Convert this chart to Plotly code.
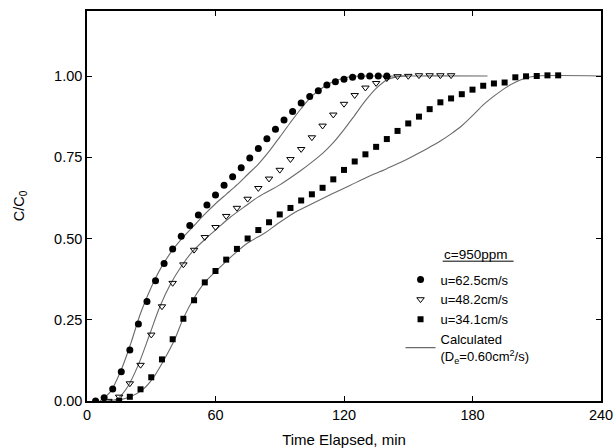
import plotly.graph_objects as go

# Measured data (time in min, C/C0)
t_625 = [4, 8, 12, 16, 20, 24, 28, 32, 36, 40, 44, 48, 52, 56, 60, 64, 68, 72, 76, 80,
         84, 88, 92, 96, 100, 104, 108, 112, 116, 120, 124, 128, 132, 136, 140]
c_625 = [0.0, 0.01, 0.037, 0.09, 0.157, 0.237, 0.306, 0.37, 0.423, 0.468, 0.507, 0.54,
         0.572, 0.603, 0.634, 0.664, 0.69, 0.718, 0.748, 0.777, 0.807, 0.836, 0.865,
         0.891, 0.917, 0.937, 0.955, 0.972, 0.982, 0.99, 0.996, 0.999, 1.0, 1.0, 1.0]

t_482 = [10, 15, 20, 25, 30, 35, 40, 45, 50, 55, 60, 65, 70, 75, 80, 85, 90, 95, 100,
         105, 110, 115, 120, 125, 130, 135, 140, 145, 150, 155, 160, 165, 170]
c_482 = [0.0, 0.013, 0.054, 0.111, 0.204, 0.291, 0.363, 0.42, 0.465, 0.504, 0.535,
         0.569, 0.594, 0.622, 0.655, 0.684, 0.711, 0.744, 0.775, 0.811, 0.847, 0.881,
         0.914, 0.941, 0.964, 0.978, 0.993, 0.999, 1.0, 1.002, 1.002, 1.002, 1.002]

t_341 = [15, 20, 25, 30, 35, 40, 45, 50, 55, 60, 65, 70, 75, 80, 85, 90, 95, 100, 105,
         110, 115, 120, 125, 130, 135, 140, 145, 150, 155, 160, 165, 170, 175, 180,
         185, 190, 195, 200, 205, 210, 215, 220]
c_341 = [0.0, 0.013, 0.036, 0.073, 0.128, 0.19, 0.253, 0.31, 0.365, 0.40, 0.435, 0.468,
         0.5, 0.526, 0.55, 0.574, 0.594, 0.617, 0.636, 0.656, 0.682, 0.711, 0.737,
         0.759, 0.782, 0.806, 0.831, 0.854, 0.875, 0.898, 0.919, 0.931, 0.944, 0.958,
         0.97, 0.977, 0.98, 0.996, 0.999, 1.0, 1.002, 1.002]

# Calculated curves (D_e = 0.60 cm2/s)
tc_625 = [6, 11, 16, 20.5, 25, 30, 35, 40, 45, 50, 55, 60, 65, 70, 75, 80, 85, 90, 95,
          100, 105, 110, 115, 120, 125, 130, 150]
cc_625 = [0.0, 0.029, 0.096, 0.178, 0.27, 0.35, 0.415, 0.465, 0.505, 0.54, 0.575, 0.607,
          0.636, 0.665, 0.697, 0.729, 0.768, 0.812, 0.857, 0.9, 0.938, 0.964, 0.983,
          0.994, 0.999, 1.0, 1.0]

tc_482 = [9, 14, 19, 24, 29, 34, 39, 44, 49, 55, 61, 67, 74, 80, 90, 100, 105, 110, 115,
          120, 125, 130, 135, 140, 145, 150, 187]
cc_482 = [0.0, 0.006, 0.044, 0.112, 0.2, 0.29, 0.36, 0.414, 0.458, 0.497, 0.532, 0.566,
          0.6, 0.628, 0.665, 0.71, 0.735, 0.762, 0.795, 0.835, 0.879, 0.924, 0.962,
          0.988, 0.998, 1.0, 1.0]

tc_341 = [13, 20, 26, 31, 36, 41, 45, 50, 55, 60, 67.5, 75, 83, 90, 98, 106, 114, 123,
          132, 140, 148, 155, 160, 165, 170, 175, 180, 185, 190, 195, 200, 205, 210, 240]
cc_341 = [0.0, 0.012, 0.035, 0.072, 0.127, 0.19, 0.255, 0.317, 0.365, 0.398, 0.445,
          0.486, 0.517, 0.55, 0.584, 0.61, 0.636, 0.664, 0.692, 0.715, 0.739, 0.763,
          0.781, 0.8, 0.822, 0.847, 0.878, 0.911, 0.938, 0.962, 0.981, 0.994, 1.0, 1.0]

x_ticks = [0, 60, 120, 180, 240]
y_ticks = [0.0, 0.25, 0.50, 0.75, 1.00]
y_ticklabels = ["0.00", "0.25", "0.50", "0.75", "1.00"]

FONT = "Liberation Sans, Arial, sans-serif"
LINE_COLOR = "#6a6a6a"

fig = go.Figure()

for tx, cy in [(tc_625, cc_625), (tc_482, cc_482), (tc_341, cc_341)]:
    fig.add_trace(go.Scatter(x=tx, y=cy, mode="lines",
                             line=dict(color=LINE_COLOR, width=1.1, shape="spline",
                                       smoothing=0.8),
                             showlegend=False))

fig.add_trace(go.Scatter(x=t_625, y=c_625, mode="markers", name="u=62.5cm/s",
                         marker=dict(symbol="circle", size=7, color="black")))
fig.add_trace(go.Scatter(x=t_482, y=c_482, mode="markers", name="u=48.2cm/s",
                         marker=dict(symbol="triangle-down-open", size=6.5, color="black",
                                     line=dict(width=1, color="black"))))
fig.add_trace(go.Scatter(x=t_341, y=c_341, mode="markers", name="u=34.1cm/s",
                         marker=dict(symbol="square", size=6, color="black")))
fig.add_trace(go.Scatter(x=[None], y=[None], mode="lines",
                         name="Calculated<br>(D<sub>e</sub>=0.60cm<sup>2</sup>/s)",
                         line=dict(color=LINE_COLOR, width=1.1)))

fig.update_layout(
    width=616, height=448,
    margin=dict(l=87, r=15, t=11, b=47),
    paper_bgcolor="white", plot_bgcolor="white",
    font=dict(family=FONT, size=14, color="black"),
    showlegend=True,
    legend=dict(x=0.61, y=0.35, xanchor="left", yanchor="top",
                bgcolor="rgba(0,0,0,0)", borderwidth=0,
                font=dict(family=FONT, size=13), tracegroupgap=0,
                itemwidth=30),
    xaxis=dict(range=[0, 240], tickmode="array", tickvals=x_ticks,
               ticks="inside", ticklen=5, tickwidth=1, tickcolor="black",
               showline=True, linecolor="black", linewidth=1.5, mirror="allticks",
               showgrid=False, zeroline=False, automargin=False,
               tickfont=dict(size=14.5),
               title=dict(text="Time Elapsed, min", font=dict(size=15), standoff=13)),
    yaxis=dict(range=[0, 1.2], tickmode="array", tickvals=y_ticks, ticktext=y_ticklabels,
               ticks="inside", ticklen=5, tickwidth=1, tickcolor="black",
               showline=True, linecolor="black", linewidth=1.5, mirror="allticks",
               showgrid=False, zeroline=False, automargin=False,
               tickfont=dict(size=14.5),
               title=dict(text="C/C<sub>0</sub>", font=dict(size=14.5), standoff=26)),
)

fig.add_annotation(x=0.69, y=0.375, xref="paper", yref="paper",
                   text="c=950ppm",
                   showarrow=False, xanchor="left", yanchor="middle",
                   font=dict(family=FONT, size=13.5))
fig.add_shape(type="line", xref="paper", yref="paper",
              x0=0.692, x1=0.83, y0=0.3585, y1=0.3585,
              line=dict(color="black", width=1))

# remove the default page margin so the 616x448 figure fills the window exactly
fig.write_html("out.html",
               config={"displayModeBar": False},
               post_script="document.body.style.margin='0';"
                           "document.body.style.overflow='hidden';")
